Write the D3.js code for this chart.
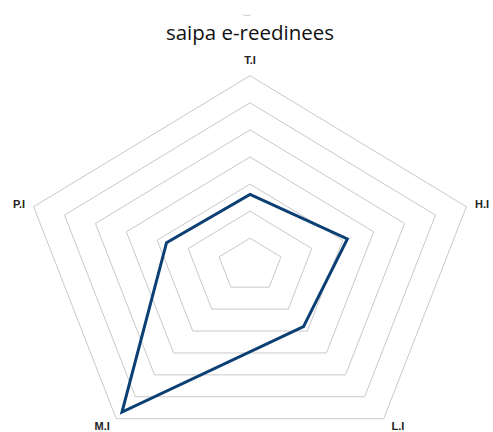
<!DOCTYPE html>
<html>
<head>
<meta charset="utf-8">
<script src="https://cdn.jsdelivr.net/npm/d3@7"></script>
<style>
  body { margin: 0; background: #fff; }
  svg { display: block; }
</style>
</head>
<body>
<div id="chart"></div>
<script>
var axesNames = ["T.I", "H.I", "L.I", "M.I", "P.I"];
var values = [2.62, 3.15, 2.8, 6.7, 2.7];
var gridLevels = [1, 2, 3, 4, 5, 6, 7];
var titleText = "saipa e-reedinees";

var width = 493, height = 432;
var cx = 250, cy = 265.3;
var maxR = 189.6;
var stretchX = 1.2;

var svg = d3.select("#chart").append("svg")
  .attr("width", width)
  .attr("height", height);

var r = d3.scaleLinear().domain([0, 7]).range([0, maxR]);
var angle = d3.scalePoint().domain(axesNames).range([0, 2 * Math.PI * 4 / 5]);

function pt(name, v) {
  var a = angle(name), rad = r(v);
  return [cx + Math.sin(a) * rad * stretchX, cy - Math.cos(a) * rad];
}

var line = d3.line().curve(d3.curveLinearClosed);

// grid rings
svg.append("g").selectAll("path")
  .data(gridLevels)
  .enter().append("path")
  .attr("d", function(lv) { return line(axesNames.map(function(n) { return pt(n, lv); })); })
  .attr("fill", "none")
  .attr("stroke", "#c9c9c9")
  .attr("stroke-width", 1);

// data line
svg.append("path")
  .datum(axesNames.map(function(n, i) { return pt(n, values[i]); }))
  .attr("d", line)
  .attr("fill", "none")
  .attr("stroke", "#0c3f74")
  .attr("stroke-width", 3)
  .attr("stroke-linejoin", "miter");

// axis labels
svg.append("g").selectAll("text")
  .data(axesNames)
  .enter().append("text")
  .attr("x", function(n) {
    var a = angle(n), p = pt(n, 7);
    var s = Math.sin(a), c = Math.cos(a);
    if (c < -0.5) return p[0] + s * 24;
    return p[0] + s * 9;
  })
  .attr("y", function(n) {
    var a = angle(n), p = pt(n, 7);
    var c = Math.cos(a);
    if (c > 0.9) return p[1] - 12;
    if (c < -0.5) return p[1] + 11;
    return p[1] + 1.5;
  })
  .attr("text-anchor", function(n) {
    var a = angle(n), s = Math.sin(a), c = Math.cos(a);
    if (c > 0.9 || c < -0.5) return "middle";
    return s > 0 ? "start" : "end";
  })
  .style("font-family", "Liberation Sans, Arial, sans-serif")
  .style("font-size", "11px")
  .style("font-weight", "bold")
  .style("fill", "#222")
  .text(function(n) { return n; });

// small mark above the title
svg.append("text")
  .attr("x", cx - 3)
  .attr("y", 14)
  .attr("text-anchor", "middle")
  .style("font-family", "DejaVu Sans, sans-serif")
  .style("font-size", "9px")
  .style("fill", "#aaa")
  .text("\u203F");

svg.append("text")
  .attr("x", cx)
  .attr("y", 40)
  .attr("text-anchor", "middle")
  .style("font-family", "Open Sans, sans-serif")
  .style("font-size", "20.5px")
  .style("fill", "#111")
  .text(titleText);
</script>
</body>
</html>
